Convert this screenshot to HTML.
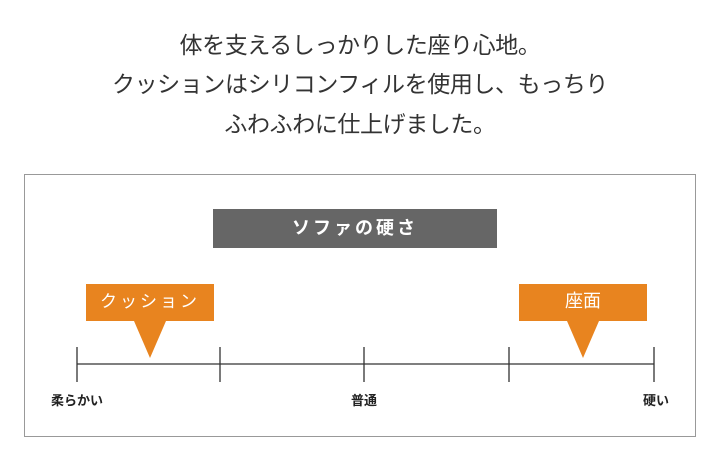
<!DOCTYPE html>
<html><head><meta charset="utf-8"><style>
body{margin:0;width:720px;height:472px;background:#fff;position:relative;overflow:hidden;font-family:"Liberation Sans","Noto Sans CJK JP",sans-serif;}
.t{position:absolute;left:0;width:720px;text-align:center;font-size:23px;color:#333;letter-spacing:-0.4px;line-height:28px;}
.a{position:absolute;}
</style></head><body>
<div class="t" style="top:31px">体を支えるしっかりした座り心地。</div>
<div class="t" style="top:70px">クッションはシリコンフィルを使用し、もっちり</div>
<div class="t" style="top:110px">ふわふわに仕上げました。</div>
<div class="a" style="left:24px;top:174px;width:670px;height:261px;border:1.5px solid #999;"></div>
<div class="a" style="left:213px;top:209px;width:284px;height:39px;background:#666;color:#fff;font-size:18px;font-weight:bold;letter-spacing:3px;text-align:center;line-height:39px;">ソファの硬さ</div>
<svg class="a" style="left:0;top:0" width="720" height="472">
<polygon points="86,284 214,284 214,321 166,321 150,358 134,321 86,321" fill="#E8841F"/>
<polygon points="519,284 647,284 647,321 599,321 583,358 567,321 519,321" fill="#E8841F"/>
<g stroke="#333" stroke-width="1.3">
<line x1="77" y1="364" x2="654" y2="364"/>
<line x1="77" y1="347" x2="77" y2="382"/>
<line x1="220" y1="347" x2="220" y2="382"/>
<line x1="364" y1="347" x2="364" y2="382"/>
<line x1="509" y1="347" x2="509" y2="382"/>
<line x1="654" y1="347" x2="654" y2="382"/>
</g>
</svg>
<div class="a" style="left:86px;top:284px;width:128px;height:35px;line-height:35px;text-align:center;color:#fff;font-size:17px;letter-spacing:3px;">クッション</div>
<div class="a" style="left:519px;top:284px;width:128px;height:35px;line-height:35px;text-align:center;color:#fff;font-size:18px;">座面</div>
<div class="a" style="left:27px;top:390px;width:100px;text-align:center;font-size:13px;font-weight:bold;color:#222;">柔らかい</div>
<div class="a" style="left:314px;top:390px;width:100px;text-align:center;font-size:13px;font-weight:bold;color:#222;">普通</div>
<div class="a" style="left:606px;top:390px;width:100px;text-align:center;font-size:13px;font-weight:bold;color:#222;">硬い</div>
</body></html>
